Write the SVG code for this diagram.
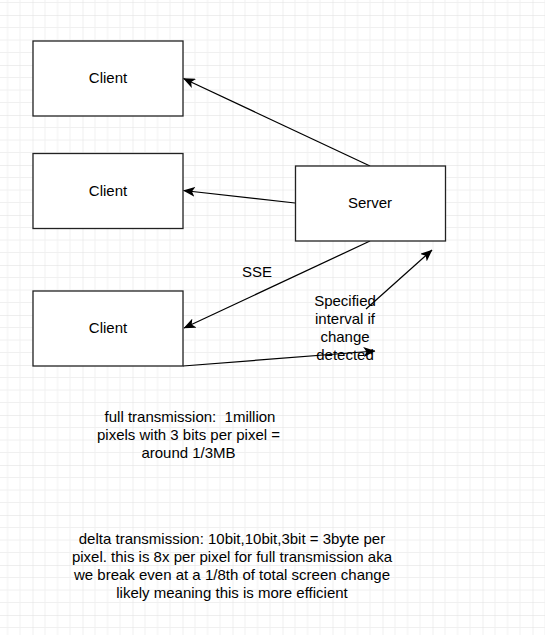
<svg xmlns="http://www.w3.org/2000/svg" width="545" height="635" viewBox="0 0 545 635">
<defs>
<pattern id="grid" x="32.5" y="15" width="50" height="50" patternUnits="userSpaceOnUse">
<path d="M12.5 0V50M25 0V50M37.5 0V50M0 12.5H50M0 25H50M0 37.5H50" stroke="#f0f0f0" stroke-width="1" fill="none"/>
<path d="M0 0V50M0 0H50" stroke="#dedede" stroke-width="1" fill="none"/>
</pattern>
<marker id="arr" viewBox="0 0 12 10" refX="11.5" refY="5" markerWidth="12" markerHeight="10" markerUnits="userSpaceOnUse" orient="auto">
<path d="M0 0L12 5L0 10L3 5Z" fill="#000"/>
</marker>
</defs>
<style>
.box{fill:#fff;stroke:#222;stroke-width:1.3}
.lbl{font-family:"Liberation Sans",Arial,sans-serif;font-size:15px;fill:#000;text-anchor:middle}
.edge{fill:none;stroke:#000;stroke-width:1.25;marker-end:url(#arr)}
</style>
<rect width="545" height="635" fill="#fff"/>
<rect width="545" height="635" fill="url(#grid)"/>
<g id="connectors">
<path class="edge" d="M370 166L183.5 78.5"/>
<path class="edge" d="M295 203L183.5 190.5"/>
<path class="edge" d="M370 241L184 328"/>
<path class="edge" d="M183 366L375 351"/>
<path class="edge" d="M366 309L432 250"/>
</g>
<g id="client1"><rect class="box" x="33" y="41" width="150" height="75"/><text class="lbl" x="108" y="83">Client</text></g>
<g id="client2"><rect class="box" x="33" y="153.5" width="150" height="75"/><text class="lbl" x="108" y="195.5">Client</text></g>
<g id="client3"><rect class="box" x="33" y="291" width="150" height="75"/><text class="lbl" x="108" y="333">Client</text></g>
<g id="server"><rect class="box" x="295.5" y="166" width="150" height="75"/><text class="lbl" x="370" y="208">Server</text></g>
<g id="sse-label"><text class="lbl" x="257" y="277">SSE</text></g>
<g id="interval-label"><text class="lbl" x="345"><tspan x="345" y="306">Specified</tspan><tspan x="345" y="324">interval if</tspan><tspan x="345" y="342">change</tspan><tspan x="345" y="360">detected</tspan></text></g>
<g id="full-note"><text class="lbl" xml:space="preserve"><tspan x="190" y="422">full transmission:  1million</tspan><tspan x="188.5" y="440">pixels with 3 bits per pixel =</tspan><tspan x="188.5" y="458">around 1/3MB</tspan></text></g>
<g id="delta-note"><text class="lbl"><tspan x="232" y="544">delta transmission: 10bit,10bit,3bit = 3byte per</tspan><tspan x="232" y="562">pixel. this is 8x per pixel for full transmission aka</tspan><tspan x="232" y="580">we break even at a 1/8th of total screen change</tspan><tspan x="232" y="598">likely meaning this is more efficient</tspan></text></g>
</svg>
